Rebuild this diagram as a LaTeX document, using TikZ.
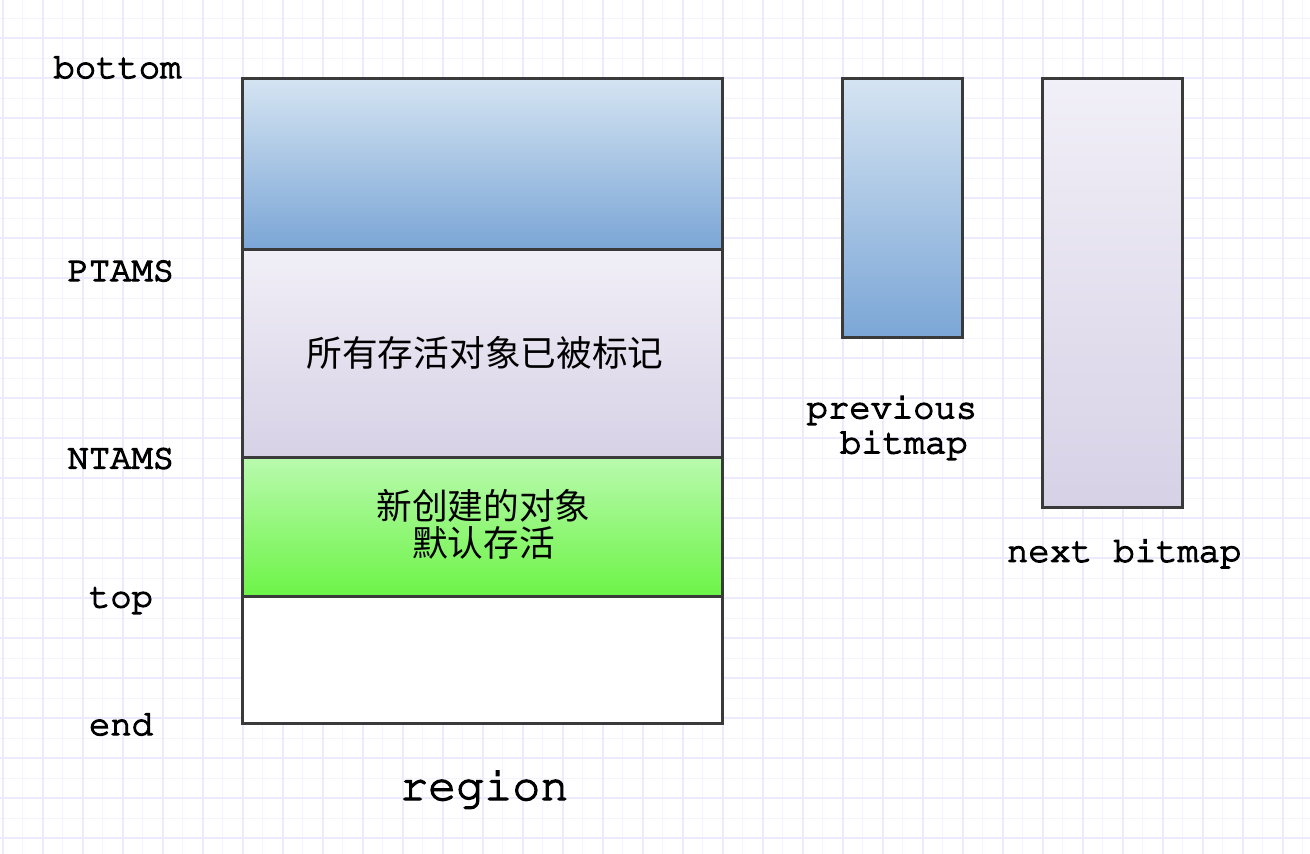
\documentclass[tikz,border=0pt]{standalone}
\usepackage[T1]{fontenc}
\usepackage{fontspec}
\setmonofont{Liberation Mono}
\newfontfamily\cjk{Noto Sans CJK SC}
\newcommand\courfont{\fontencoding{T1}\fontfamily{pcr}\selectfont}
\newcommand\heavytext[1]{\special{pdf:literal direct 2 Tr 1.3 w}#1\special{pdf:literal direct 0 Tr}}
\definecolor{gridthin}{HTML}{F4F3FE}
\definecolor{gridthick}{HTML}{ECEAFC}
\definecolor{edge}{HTML}{3A3A3A}
\definecolor{blueTop}{HTML}{D5E4F2}
\definecolor{blueBot}{HTML}{7BA6D6}
\definecolor{lavTop}{HTML}{F1EFF7}
\definecolor{lavBot}{HTML}{D7D1E6}
\definecolor{greenTop}{HTML}{B9FAAE}
\definecolor{greenBot}{HTML}{6DF447}
\begin{document}
\begin{tikzpicture}[x=1pt,y=-1pt,
  segbox/.style={draw=edge, line width=3pt, inner sep=0pt, outer sep=0pt, rectangle},
  lbl/.style={inner sep=0pt, outer sep=0pt, font=\courfont\fontsize{35.5}{35}\selectfont, text=black},
  biglbl/.style={inner sep=0pt, outer sep=0pt, font=\courfont\fontsize{46.8}{48}\selectfont, text=black},
  cjklbl/.style={inner sep=0pt, outer sep=0pt, align=center, font=\cjk\fontsize{35.7}{36.5}\selectfont, text=black}]
\useasboundingbox (0,0) rectangle (1310,854);
\fill[white] (0,0) rectangle (1310,854);
% grid
\foreach \gx in {22.7,62.7,...,1310} \draw[gridthin, line width=1.3pt] (\gx,0) -- (\gx,854);
\foreach \gy in {18.3,58.3,...,854} \draw[gridthin, line width=1.3pt] (0,\gy) -- (1310,\gy);
\foreach \gx in {2.7,42.7,...,1310} \draw[gridthick, line width=2pt] (\gx,0) -- (\gx,854);
\foreach \gy in {38.3,78.3,...,854} \draw[gridthick, line width=2pt] (0,\gy) -- (1310,\gy);
% region segments
\node[segbox, minimum width=480pt, minimum height=171pt, top color=blueTop, bottom color=blueBot] (seg1) at (482,163.5) {};
\node[segbox, minimum width=480pt, minimum height=208pt, top color=lavTop, bottom color=lavBot] (seg2) at (482,353) {};
\node[segbox, minimum width=480pt, minimum height=139pt, top color=greenTop, bottom color=greenBot] (seg3) at (482,526.5) {};
\node[segbox, minimum width=480pt, minimum height=127pt, fill=white] (seg4) at (482,659.5) {};
% bitmaps
\node[segbox, minimum width=120pt, minimum height=259pt, top color=blueTop, bottom color=blueBot] (prev) at (902,207.5) {};
\node[segbox, minimum width=140pt, minimum height=429pt, top color=lavTop, bottom color=lavBot] (next) at (1112,292.5) {};
% texts in boxes
\node[cjklbl] (t2) at (485,352.5) {所有存活对象已被标记};
\node[cjklbl] (t3) at (483.5,524.5) {新创建的对象\\默认存活};
% left labels
\node[lbl, anchor=base] (lbottom) at (117.5,78) {\heavytext{bottom}};
\node[lbl, anchor=base] (lptams) at (120.8,281) {\heavytext{PTAMS}};
\node[lbl, anchor=base] (lntams) at (120.8,468.5) {\heavytext{NTAMS}};
\node[lbl, anchor=base] (ltop) at (121,607.3) {\heavytext{top}};
\node[lbl, anchor=base] (lend) at (121,735) {\heavytext{end}};
\node[biglbl, anchor=base] (lregion) at (484.2,800) {\heavytext{region}};
% bitmap labels
\node[lbl, anchor=base west] (lprev1) at (806.7,418.3) {\heavytext{previous}};
\node[lbl, anchor=base west] (lprev2) at (840,453.3) {\heavytext{bitmap}};
\node[lbl, anchor=base] (lnext) at (1124.2,561.7) {\heavytext{next bitmap}};
\end{tikzpicture}
\end{document}
